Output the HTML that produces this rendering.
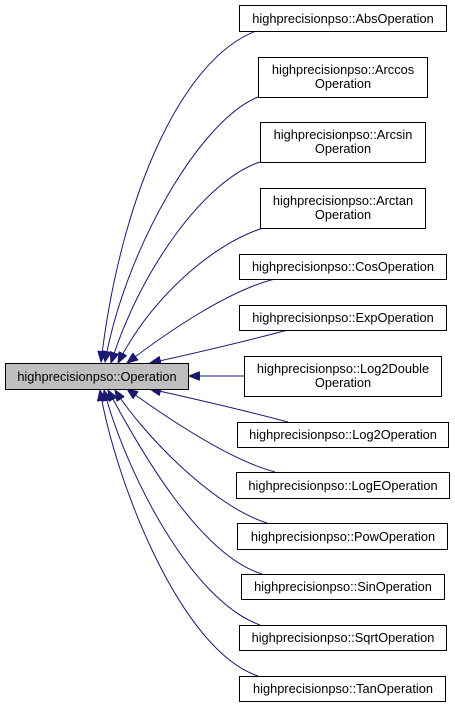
<!DOCTYPE html>
<html><head><meta charset="utf-8"><style>
html,body{margin:0;padding:0;background:#fff;}
svg{display:block;}
text{font-family:"Liberation Sans",Arial,sans-serif;font-size:12.8px;fill:#000;}
</style></head><body>
<svg width="455" height="707" viewBox="0 0 455 707" xmlns="http://www.w3.org/2000/svg">
<defs>
<marker id="a" markerUnits="userSpaceOnUse" markerWidth="12" markerHeight="9" refX="11" refY="4.5" orient="auto">
<path d="M0,0 L11,4.5 L0,9 z" fill="#191970" stroke="#191970"/>
</marker>
</defs>
<g fill="none" stroke="#191970" stroke-width="1" marker-end="url(#a)">
<path d="M256,31 C180,60 120,200 101,362"/>
<path d="M258,97 C200,120 125,250 105,362"/>
<path d="M260,162 C205,180 140,270 111,363"/>
<path d="M263,228 C210,245 150,300 118,363"/>
<path d="M275,279 C230,290 170,330 127,363"/>
<path d="M288,330 C250,340 200,352 150,363"/>
<path d="M244,376 L189,376"/>
<path d="M288,422 C250,412 200,400 150,389"/>
<path d="M275,472 C230,460 170,420 127,389"/>
<path d="M267,523 C210,505 140,430 115,390"/>
<path d="M262,574 C200,555 140,450 108,390"/>
<path d="M260,625 C190,600 125,470 104,390"/>
<path d="M258,676 C180,650 115,480 100,390"/>
</g>
<g stroke="#000" stroke-width="1" fill="#fff">
<rect x="5.5" y="363.5" width="183" height="26" fill="#bfbfbf"/>
<rect x="239.5" y="5.5" width="207" height="26"/>
<rect x="258.5" y="57.5" width="169" height="40"/>
<rect x="260.5" y="122.5" width="165" height="40"/>
<rect x="260.5" y="188.5" width="165" height="40"/>
<rect x="239.5" y="254.5" width="207" height="25"/>
<rect x="239.5" y="305.5" width="207" height="25"/>
<rect x="244.5" y="356.5" width="197" height="40"/>
<rect x="237.5" y="422.5" width="211" height="25"/>
<rect x="236.5" y="472.5" width="213" height="26"/>
<rect x="237.5" y="523.5" width="210" height="26"/>
<rect x="241.5" y="574.5" width="203" height="25"/>
<rect x="239.5" y="625.5" width="207" height="25"/>
<rect x="239.5" y="676.5" width="206" height="25"/>
</g>
<g text-anchor="middle">
<text x="97" y="381">highprecisionpso::Operation</text>
<text x="343" y="23">highprecisionpso::AbsOperation</text>
<text x="343" y="74">highprecisionpso::Arccos</text>
<text x="343" y="88">Operation</text>
<text x="343" y="139">highprecisionpso::Arcsin</text>
<text x="343" y="153">Operation</text>
<text x="343" y="205">highprecisionpso::Arctan</text>
<text x="343" y="219">Operation</text>
<text x="343" y="271">highprecisionpso::CosOperation</text>
<text x="343" y="322">highprecisionpso::ExpOperation</text>
<text x="343" y="373">highprecisionpso::Log2Double</text>
<text x="343" y="387">Operation</text>
<text x="343" y="439">highprecisionpso::Log2Operation</text>
<text x="343" y="490">highprecisionpso::LogEOperation</text>
<text x="343" y="541">highprecisionpso::PowOperation</text>
<text x="343" y="591">highprecisionpso::SinOperation</text>
<text x="343" y="642">highprecisionpso::SqrtOperation</text>
<text x="343" y="693">highprecisionpso::TanOperation</text>
</g>
</svg>
</body></html>
